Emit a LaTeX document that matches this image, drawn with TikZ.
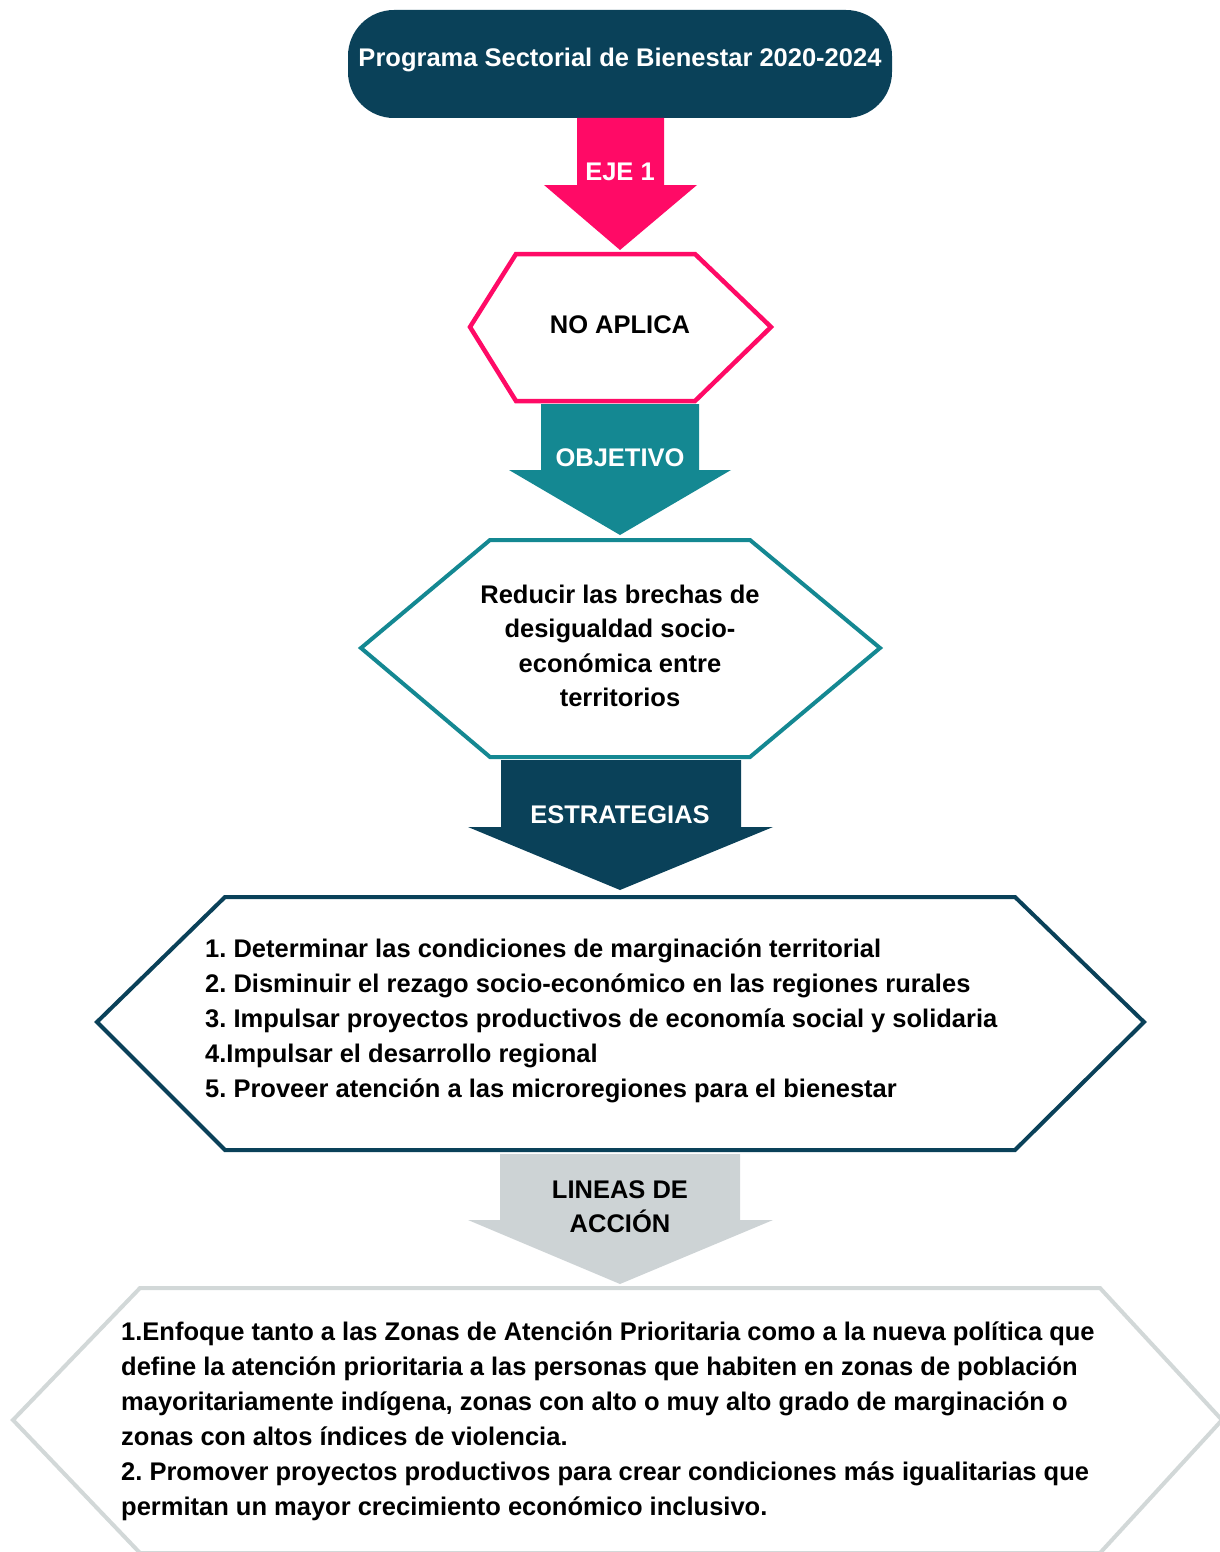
\documentclass[tikz,border=0pt]{standalone}
\usepackage{fontspec}
\setmainfont{Liberation Sans}
\definecolor{cdark}{HTML}{0A4159}
\definecolor{cpink}{HTML}{FF0A66}
\definecolor{cteal}{HTML}{148892}
\definecolor{cgrey}{HTML}{CDD3D5}
\definecolor{cgreyline}{HTML}{D2D8D8}
\tikzset{
  lbl/.style={font=\fontsize{25.5}{30}\selectfont\bfseries, inner sep=0pt},
  wlbl/.style={lbl, text=white},
  blk/.style={lbl, text=black},
  listtxt/.style={font=\fontsize{25.5}{35}\selectfont\bfseries\frenchspacing, inner sep=0pt, align=left, anchor=base west},
  hexline/.style={line width=4.5pt, fill=white, line join=miter}
}
\begin{document}
\begin{tikzpicture}[x=1pt,y=-1pt]
\useasboundingbox (0,0) rectangle (1220,1552);
\clip (0,0) rectangle (1220,1552);
% top box
\node[fill=cdark, rounded corners=46pt, minimum width=544pt, minimum height=108pt, inner sep=0pt] (top) at (620,64) {};
\node[wlbl] (toptxt) at (620,60) {Programa Sectorial de Bienestar 2020-2024};
% arrow 1 pink
\fill[cpink] (577,118) -- (664,118) -- (664,185) -- (697,185) -- (620,250) -- (544,185) -- (577,185) -- cycle;
\node[wlbl] (eje) at (620,172) {EJE 1};
% hexagon 1
\draw[hexline, draw=cpink] (516,254) -- (695,254) -- (771,327) -- (695,401) -- (516,401) -- (470,327) -- cycle;
\node[blk] (noaplica) at (620,325) {NO APLICA};
% arrow 2 teal
\fill[cteal] (541,404) -- (699,404) -- (699,470) -- (731,470) -- (620,535) -- (509,470) -- (541,470) -- cycle;
\node[wlbl] (objetivo) at (620,458) {OBJETIVO};
% hexagon 2
\draw[hexline, draw=cteal, line width=4pt] (490,540) -- (750,540) -- (880,648) -- (750,757) -- (490,757) -- (361,648) -- cycle;
\node[blk, align=center, font=\fontsize{25.5}{34.5}\selectfont\bfseries] (obj) at (620,646) {Reducir las brechas de\\desigualdad socio-\\económica entre\\territorios};
% arrow 3 dark
\fill[cdark] (501,760) -- (741,760) -- (741,827) -- (773,827) -- (620,890) -- (468,827) -- (501,827) -- cycle;
\node[wlbl] (estr) at (620,815) {ESTRATEGIAS};
% hexagon 3
\draw[hexline, draw=cdark, line width=4pt] (225,897) -- (1015,897) -- (1144,1022) -- (1015,1150) -- (225,1150) -- (97,1022) -- cycle;
\node[listtxt] (strlist) at (205,1097) {1. Determinar las condiciones de marginación territorial\\
2. Disminuir el rezago socio-económico en las regiones rurales\\
3. Impulsar proyectos productivos de economía social y solidaria\\
4.Impulsar el desarrollo regional\\
5. Proveer atención a las microregiones para el bienestar};
% arrow 4 grey
\fill[cgrey] (500,1154) -- (740,1154) -- (740,1220) -- (773,1220) -- (620,1284) -- (468,1220) -- (500,1220) -- cycle;
\node[blk, align=center, font=\fontsize{25.5}{34}\selectfont\bfseries] (lineas) at (620,1207) {LINEAS DE\\ACCIÓN};
% hexagon 4
\draw[hexline, draw=cgreyline, line width=4pt] (140,1288) -- (1100,1288) -- (1222,1420) -- (1100,1553) -- (140,1553) -- (13,1420) -- cycle;
\node[listtxt] (acclist) at (121,1515) {1.Enfoque tanto a las Zonas de Atención Prioritaria como a la nueva política que\\
define la atención prioritaria a las personas que habiten en zonas de población\\
mayoritariamente indígena, zonas con alto o muy alto grado de marginación o\\
zonas con altos índices de violencia.\\
2. Promover proyectos productivos para crear condiciones más igualitarias que\\
permitan un mayor crecimiento económico inclusivo.};
\end{tikzpicture}
\end{document}
